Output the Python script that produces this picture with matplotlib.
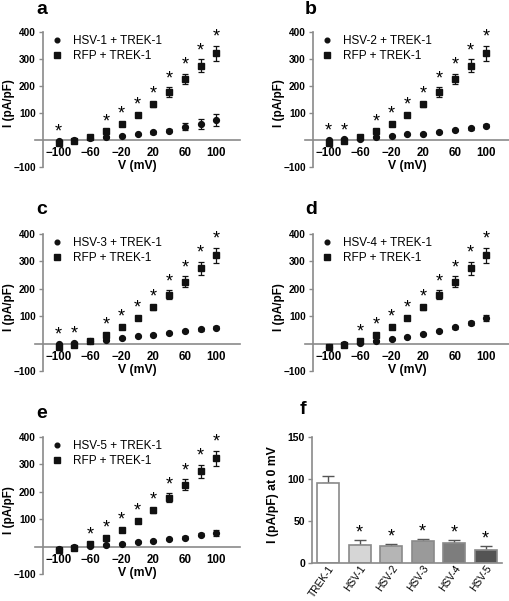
import numpy as np
import matplotlib.pyplot as plt
from matplotlib.transforms import ScaledTranslation

plt.rcParams['font.family'] = ['Liberation Sans', 'DejaVu Sans']

# membrane voltage steps (mV)
voltage = [-100, -80, -60, -40, -20, 0, 20, 40, 60, 80, 100]

# control: RFP + TREK-1
rfp_mean = [-12, -4, 10, 32, 60, 94, 132, 178, 226, 275, 322]
rfp_sem = [3, 2, 3, 5, 5, 6, 9, 17, 20, 24, 28]

# HSV + TREK-1
hsv1_mean = [-2, 1, 6, 10, 16, 21, 28, 35, 50, 60, 74]
hsv1_sem = [2, 2, 2, 3, 3, 3, 4, 5, 12, 18, 22]
hsv2_mean = [0, 2, 5, 12, 16, 21, 22, 29, 37, 43, 53]
hsv2_sem = [2, 2, 2, 3, 3, 3, 3, 4, 4, 5, 5]
hsv3_mean = [-2, 4, 8, 13, 20, 26, 32, 38, 45, 52, 58]
hsv3_sem = [2, 2, 2, 3, 3, 3, 3, 4, 4, 5, 5]
hsv4_mean = [-11, -2, 4, 9, 16, 24, 35, 46, 60, 76, 93]
hsv4_sem = [2, 2, 2, 3, 3, 3, 4, 5, 6, 8, 12]
hsv5_mean = [-8, -2, 2, 5, 10, 17, 21, 28, 33, 44, 50]
hsv5_sem = [2, 2, 2, 3, 3, 3, 4, 4, 5, 6, 10]

# voltages marked significant (*) in each panel
hsv1_sig = [-100, -40, -20, 0, 20, 40, 60, 80, 100]
hsv2_sig = [-100, -80, -40, -20, 0, 20, 40, 60, 80, 100]
hsv3_sig = [-100, -80, -40, -20, 0, 20, 40, 60, 80, 100]
hsv4_sig = [-60, -40, -20, 0, 20, 40, 60, 80, 100]
hsv5_sig = [-60, -40, -20, 0, 20, 40, 60, 80, 100]

# panel f: current at 0 mV
bar_labels = ['TREK-1', 'HSV-1', 'HSV-2', 'HSV-3', 'HSV-4', 'HSV-5']
bar_mean = [95, 21, 20, 26, 24, 16]
bar_sem = [9, 6, 3, 3, 3, 4]
bar_sig = [False, True, True, True, True, True]
bar_colors = ['white', '#d6d6d6', '#b5b5b5', '#9a9a9a', '#7d7d7d', '#545454']

W, H = 510, 601
AXC = '#8a8a8a'
fig = plt.figure(figsize=(W / 100, H / 100), dpi=100)


def px_axes(left, top, right, bottom):
    return fig.add_axes([left / W, 1 - bottom / H, (right - left) / W, (bottom - top) / H])


def iv_panel(ax, name, mean, sem, sig):
    ax.errorbar(voltage, mean, yerr=sem, fmt='o', color='#111111', ms=4.2,
                elinewidth=0.9, capsize=2.5, capthick=0.9, label=name + ' + TREK-1', zorder=3)
    ax.errorbar(voltage, rfp_mean, yerr=rfp_sem, fmt='s', color='#111111', ms=4.6,
                elinewidth=0.9, capsize=2.5, capthick=0.9, label='RFP + TREK-1', zorder=4)
    for v in sig:
        i = voltage.index(v)
        top = max(mean[i] + sem[i], rfp_mean[i] + rfp_sem[i])
        ax.text(v, top + 14, '*', ha='center', va='baseline', fontsize=13)
    ax.set_xlim(-130, 130)
    ax.set_ylim(-100, 400)
    ax.spines['left'].set_position(('data', -120))
    ax.spines['bottom'].set_position(('data', 0))
    ax.spines['left'].set_bounds(-100, 400)
    for s in ['top', 'right']:
        ax.spines[s].set_visible(False)
    for s in ['left', 'bottom']:
        ax.spines[s].set_color(AXC)
        ax.spines[s].set_linewidth(1.2)
    ax.set_xticks([-100, -60, -20, 20, 60, 100])
    ax.set_yticks([-100, 100, 200, 300, 400])
    ax.tick_params(axis='x', length=0, pad=5, labelsize=8.3)
    ax.tick_params(axis='y', length=3, width=1, color=AXC, pad=2, labelsize=7.2)
    for lab in ax.get_xticklabels() + ax.get_yticklabels():
        lab.set_fontweight('bold')
    ax.set_xlabel('V (mV)', fontsize=8.8, fontweight='bold', labelpad=1)
    ax.set_ylabel('I (pA/pF)', fontsize=8.5, fontweight='bold')
    ax.yaxis.set_label_coords(-0.098, 0.47)
    handles, labels = ax.get_legend_handles_labels()
    handles = [h[0] for h in handles]
    ax.legend(handles, labels, loc='upper left', bbox_to_anchor=(0.078, 0.975),
              frameon=False, numpoints=1, handlelength=1.0, handletextpad=0.85,
              labelspacing=0.25, borderpad=0, borderaxespad=0, fontsize=8.5,
              markerscale=0.8)


panels = [
    ('a', (35, 32, 240, 167), 'HSV-1', hsv1_mean, hsv1_sem, hsv1_sig, (36, 9)),
    ('b', (305, 32, 510, 167), 'HSV-2', hsv2_mean, hsv2_sem, hsv2_sig, (305, 9)),
    ('c', (35, 234, 240, 371), 'HSV-3', hsv3_mean, hsv3_sem, hsv3_sig, (36, 210)),
    ('d', (305, 234, 510, 371), 'HSV-4', hsv4_mean, hsv4_sem, hsv4_sig, (305, 210)),
    ('e', (35, 437, 240, 574), 'HSV-5', hsv5_mean, hsv5_sem, hsv5_sig, (36, 413)),
]
for letter, box, name, mean, sem, sig, lpos in panels:
    ax = px_axes(*box)
    iv_panel(ax, name, mean, sem, sig)
    fig.text(lpos[0] / W, 1 - lpos[1] / H, letter, fontsize=14, fontweight='bold',
             ha='left', va='center')

# panel f
axf = px_axes(312, 437, 502, 563)
xb = np.arange(len(bar_labels))
axf.bar(xb, bar_mean, width=0.7, color=bar_colors, edgecolor='#8a8a8a', linewidth=1.2, zorder=2)
axf.errorbar(xb, bar_mean, yerr=[np.zeros(len(bar_sem)), bar_sem], fmt='none',
             ecolor='#555555', elinewidth=1.0, capsize=4, capthick=1.0, zorder=1)
for i in xb:
    if bar_sig[i]:
        axf.text(i, bar_mean[i] + bar_sem[i] + 3, '*', ha='center', va='baseline', fontsize=13)
axf.set_xlim(-0.51, 5.52)
axf.set_ylim(0, 150)
axf.set_yticks([0, 50, 100, 150])
axf.set_xticks(xb)
axf.set_xticklabels(bar_labels, rotation=55, ha='right', va='top', rotation_mode='anchor',
                    fontsize=7.3)
shift = ScaledTranslation(9 / 100, 0, fig.dpi_scale_trans)
for lab in axf.get_xticklabels():
    lab.set_transform(lab.get_transform() + shift)
for s in ['top', 'right']:
    axf.spines[s].set_visible(False)
for s in ['left', 'bottom']:
    axf.spines[s].set_color(AXC)
    axf.spines[s].set_linewidth(1.2)
axf.tick_params(axis='x', length=0, pad=0.5)
axf.tick_params(axis='y', length=3, width=1, color=AXC, pad=2, labelsize=7.5)
for lab in axf.get_yticklabels():
    lab.set_fontweight('bold')
axf.set_ylabel('I (pA/pF) at 0 mV', fontsize=8.8, fontweight='bold')
axf.yaxis.set_label_coords(-0.175, 0.54)
fig.text(300 / W, 1 - 410 / H, 'f', fontsize=14, fontweight='bold', ha='left', va='center')

fig.savefig('out.png', dpi=100)
